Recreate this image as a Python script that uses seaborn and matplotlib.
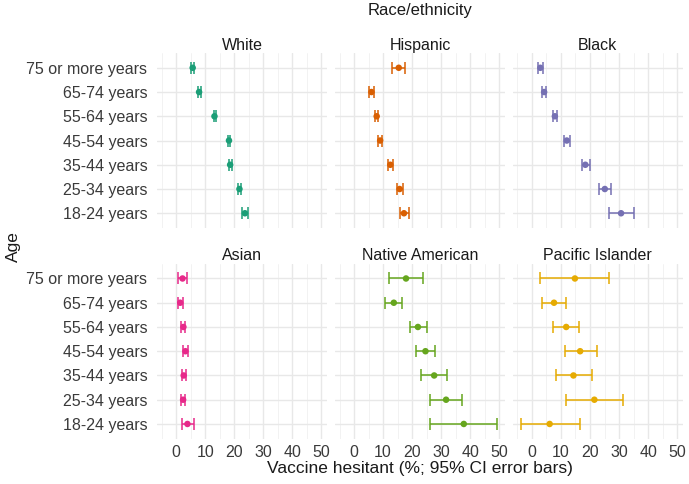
import matplotlib
matplotlib.use("Agg")
import matplotlib.pyplot as plt
import seaborn as sns
import pandas as pd

# age groups, top to bottom as shown
ages = ["75 or more years", "65-74 years", "55-64 years", "45-54 years",
        "35-44 years", "25-34 years", "18-24 years"]
groups = ["White", "Hispanic", "Black", "Asian", "Native American", "Pacific Islander"]
colors = ["#1B9E77", "#D95F02", "#7570B3", "#E7298A", "#66A61E", "#E6AB02"]

# point estimates and 95% CI bounds
white_est = [5.7, 7.9, 13.2, 18.2, 18.6, 21.8, 23.7]
white_lo = [5.2, 7.4, 12.9, 17.7, 18.2, 21.3, 22.6]
white_hi = [6.2, 8.4, 13.7, 18.7, 19.1, 22.3, 24.7]

hispanic_est = [15.4, 6.0, 7.8, 9.0, 12.5, 15.7, 17.2]
hispanic_lo = [13.2, 5.3, 7.2, 8.4, 11.7, 14.9, 15.7]
hispanic_hi = [17.6, 6.8, 8.4, 9.7, 13.4, 16.7, 19.0]

black_est = [2.9, 4.2, 7.9, 12.0, 18.4, 25.1, 30.7]
black_lo = [2.0, 3.6, 7.1, 11.2, 17.2, 23.2, 26.5]
black_hi = [3.8, 4.9, 8.6, 13.0, 19.9, 27.1, 35.1]

asian_est = [2.2, 1.4, 2.5, 3.2, 2.6, 2.4, 3.9]
asian_lo = [0.5, 0.6, 1.7, 2.3, 2.0, 1.7, 2.0]
asian_hi = [3.8, 2.2, 3.2, 4.1, 3.3, 3.2, 6.0]

native_est = [17.9, 13.7, 22.0, 24.6, 27.6, 31.7, 37.8]
native_lo = [12.1, 10.8, 19.2, 21.4, 23.2, 26.1, 26.2]
native_hi = [23.6, 16.4, 25.1, 27.9, 32.0, 37.2, 49.3]

pacific_est = [14.8, 7.6, 11.8, 16.6, 14.3, 21.5, 6.1]
pacific_lo = [2.7, 3.6, 7.4, 11.3, 8.2, 11.7, -3.9]
pacific_hi = [26.6, 11.8, 16.3, 22.4, 20.7, 31.4, 16.5]

series = {
    "White": (white_est, white_lo, white_hi),
    "Hispanic": (hispanic_est, hispanic_lo, hispanic_hi),
    "Black": (black_est, black_lo, black_hi),
    "Asian": (asian_est, asian_lo, asian_hi),
    "Native American": (native_est, native_lo, native_hi),
    "Pacific Islander": (pacific_est, pacific_lo, pacific_hi),
}

rows = []
for g in groups:
    est, lo, hi = series[g]
    for a, e, l, h in zip(ages, est, lo, hi):
        rows.append({"race": g, "age": a, "est": e, "lo": l, "hi": h})
df = pd.DataFrame(rows)
df["ypos"] = df["age"].map({a: i for i, a in enumerate(ages)})
palette = dict(zip(groups, colors))

sns.set_theme(style="whitegrid")
plt.rcParams["font.family"] = ["Liberation Sans", "DejaVu Sans"]
plt.rcParams["axes.edgecolor"] = "white"
plt.rcParams["grid.color"] = "#EBEBEB"


def draw_ci(data, **kws):
    ax = plt.gca()
    c = palette[data["race"].iloc[0]]
    ax.errorbar(data["est"], data["ypos"],
                xerr=[data["est"] - data["lo"], data["hi"] - data["est"]],
                fmt="none", ecolor=c, elinewidth=1.1, capsize=4, capthick=1.1)
    sns.scatterplot(data=data, x="est", y="ypos", color=c, s=22,
                    edgecolor="none", ax=ax, zorder=3)


g = sns.FacetGrid(df, col="race", col_order=groups, col_wrap=3,
                  sharex=True, sharey=True, despine=False)
g.map_dataframe(draw_ci)
g.figure.set_size_inches(6.89, 4.84)
g.figure.subplots_adjust(left=0.228, right=0.991, top=0.890, bottom=0.094,
                         wspace=0.047, hspace=0.207)

lo_all, hi_all = df["lo"].min(), df["hi"].max()
span = hi_all - lo_all
for ax, name in zip(g.axes.flat, groups):
    ax.set_xlim(lo_all - 0.05 * span, hi_all + 0.05 * span)
    ax.set_ylim(len(ages) - 0.4, -0.6)
    ax.set_xticks([0, 10, 20, 30, 40, 50])
    ax.set_xticks([-5, 5, 15, 25, 35, 45], minor=True)
    ax.set_yticks(range(len(ages)))
    ax.set_yticklabels(ages)
    ax.grid(True, which="major", color="#E8E8E8", linewidth=1.0)
    ax.grid(True, which="minor", axis="x", color="#F0F0F0", linewidth=0.6)
    ax.tick_params(axis="both", which="both", length=0, labelsize=11.5,
                   labelcolor="#3A3A3A")
    ax.tick_params(axis="y", pad=7)
    ax.tick_params(axis="x", pad=5)
    for s in ax.spines.values():
        s.set_visible(False)
    ax.set_title(name, fontsize=11.5, color="#1A1A1A", pad=2.5)
    ax.set_xlabel("")
    ax.set_ylabel("")

fig = g.figure
fig.text(0.609, 0.993, "Race/ethnicity", ha="center", va="top", fontsize=12, color="#1A1A1A")
fig.text(0.609, 0.016, "Vaccine hesitant (%; 95% CI error bars)", ha="center", va="bottom",
         fontsize=12.5, color="#1A1A1A")
fig.text(0.008, 0.49, "Age", rotation=90, ha="left", va="center", fontsize=12.5, color="#1A1A1A")

fig.savefig("out.png", dpi=100)
